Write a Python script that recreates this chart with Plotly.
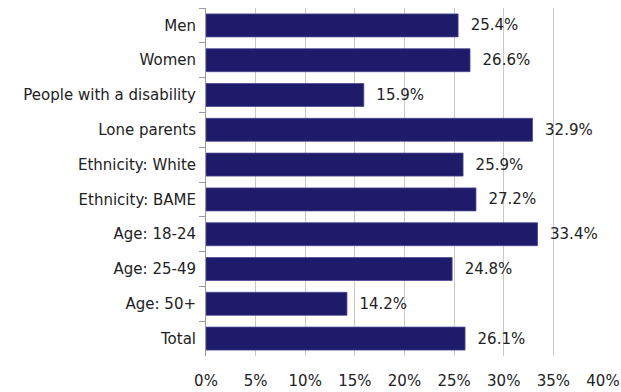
import plotly.graph_objects as go

categories = ["Men", "Women", "People with a disability", "Lone parents",
              "Ethnicity: White", "Ethnicity: BAME", "Age: 18-24", "Age: 25-49",
              "Age: 50+", "Total"]
values = [25.4, 26.6, 15.9, 32.9, 25.9, 27.2, 33.4, 24.8, 14.2, 26.1]
tick_vals = [0, 5, 10, 15, 20, 25, 30, 35, 40]
tick_text = [f"{v}%" for v in tick_vals]

fig = go.Figure(go.Bar(
    x=values, y=categories, orientation="h",
    marker=dict(color="#1E1B6B", line=dict(color="#4a4890", width=0.8)),
    text=[f"  {v:.1f}%" for v in values], textposition="outside",
    textfont=dict(family="DejaVu Sans", size=15, color="#222222"),
    cliponaxis=False,
))

fig.update_layout(
    width=621, height=392,
    margin=dict(l=206, r=18, t=8, b=36, autoexpand=False),
    paper_bgcolor="white", plot_bgcolor="white",
    bargap=0.34, showlegend=False,
    font=dict(family="DejaVu Sans", size=15, color="#222222"),
)
fig.update_xaxes(range=[0, 40], tickvals=tick_vals, ticktext=tick_text,
                 showgrid=True, gridcolor="#c8c8c8", gridwidth=1,
                 zeroline=False, showline=False, automargin=False,
                 tickfont=dict(size=15, color="#222222"), ticks="",
                 ticklabelstandoff=14)
fig.update_yaxes(autorange="reversed", tickson="boundaries", ticks="outside",
                 ticklen=6, tickcolor="#999999", showline=True, linecolor="#999999",
                 showgrid=False, automargin=False,
                 tickfont=dict(size=15, color="#222222"),
                 ticklabelstandoff=6)

fig.write_html("out.html", config={"displayModeBar": False},
               post_script="document.body.style.margin='0';")
